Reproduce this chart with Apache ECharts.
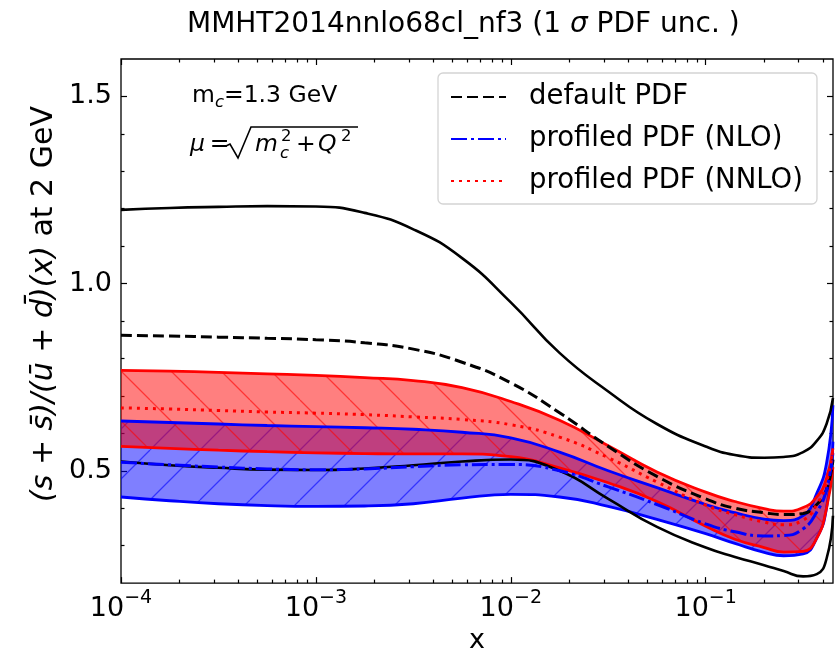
<!DOCTYPE html>
<html>
<head>
<meta charset="utf-8">
<script src="https://cdn.jsdelivr.net/npm/echarts@6/dist/echarts.min.js"></script>
<style>
  html, body { margin: 0; background: #fff; }
  #main { width: 839px; height: 659px; }
</style>
</head>
<body>
<div id="main"></div>
<script>
// sample points as log10(x)
var logx = [-4, -3.75, -3.5, -3.25, -3, -2.75, -2.5, -2.25, -2, -1.75, -1.5, -1.25, -1, -0.85, -0.7, -0.6, -0.5, -0.43, -0.38, -0.347];

// default PDF: band edges + central
var defUp  = [1.197, 1.202, 1.205, 1.207, 1.206, 1.189, 1.145, 1.068, 0.95, 0.815, 0.712, 0.625, 0.565, 0.542, 0.535, 0.537, 0.55, 0.58, 0.625, 0.694];
var defMid = [0.862, 0.86, 0.857, 0.854, 0.85, 0.842, 0.825, 0.79, 0.735, 0.655, 0.565, 0.485, 0.425, 0.40, 0.388, 0.383, 0.386, 0.41, 0.45, 0.53];
var defLo  = [0.525, 0.515, 0.508, 0.503, 0.502, 0.506, 0.515, 0.525, 0.53, 0.50, 0.425, 0.35, 0.295, 0.27, 0.248, 0.232, 0.218, 0.224, 0.265, 0.38];

// profiled NLO
var nloUp  = [0.633, 0.629, 0.625, 0.621, 0.618, 0.615, 0.611, 0.603, 0.588, 0.55, 0.5, 0.455, 0.41, 0.388, 0.371, 0.367, 0.38, 0.44, 0.52, 0.675];
var nloMid = [0.523, 0.516, 0.51, 0.505, 0.503, 0.505, 0.511, 0.516, 0.517, 0.50, 0.457, 0.41, 0.358, 0.337, 0.326, 0.327, 0.345, 0.39, 0.45, 0.55];
var nloLo  = [0.43, 0.42, 0.412, 0.407, 0.405, 0.406, 0.412, 0.427, 0.437, 0.43, 0.405, 0.37, 0.332, 0.306, 0.282, 0.273, 0.278, 0.32, 0.40, 0.578];

// profiled NNLO
var nnloUp  = [0.768, 0.766, 0.763, 0.759, 0.755, 0.749, 0.741, 0.722, 0.685, 0.635, 0.567, 0.497, 0.443, 0.418, 0.399, 0.392, 0.402, 0.43, 0.48, 0.56];
var nnloMid = [0.668, 0.665, 0.661, 0.657, 0.654, 0.65, 0.644, 0.637, 0.623, 0.59, 0.535, 0.47, 0.408, 0.383, 0.363, 0.356, 0.368, 0.41, 0.47, 0.56];
var nnloLo  = [0.565, 0.56, 0.555, 0.551, 0.548, 0.546, 0.545, 0.545, 0.538, 0.508, 0.468, 0.418, 0.352, 0.317, 0.295, 0.283, 0.285, 0.32, 0.40, 0.51];

// ticks
var xMajor = [1e-4, 1e-3, 1e-2, 1e-1];
var xMinor = [];
[1e-4, 1e-3, 1e-2, 1e-1].forEach(function (d) {
  for (var k = 2; k <= 9; k++) if (k * d < 0.45) xMinor.push(k * d);
});
var yMajor = [0.5, 1.0, 1.5];
var yMinor = [0.3, 0.4, 0.6, 0.7, 0.8, 0.9, 1.1, 1.2, 1.3, 1.4];

var F = 'DejaVu Sans';
var xMin = -4, xMax = Math.log10(0.45);

function pts(arr) { return arr.map(function (v, i) { return [logx[i], v]; }); }
// value first so the stack runs on y (x axis is a value axis too)
function ptsYX(arr) { return arr.map(function (v, i) { return [v, logx[i]]; }); }
function gapYX(a, b) { return a.map(function (v, i) { return [v - b[i], logx[i]]; }); }

function hatch(fill, stroke, dir) {
  var s = 50, c = document.createElement('canvas');
  c.width = s; c.height = s;
  var g = c.getContext('2d');
  g.fillStyle = fill; g.fillRect(0, 0, s, s);
  g.strokeStyle = stroke; g.lineWidth = 1.3;
  g.beginPath();
  for (var k = -1; k <= 1; k++) {
    if (dir === '\\') { g.moveTo(k * s, 0); g.lineTo(k * s + s, s); }
    else { g.moveTo(k * s, s); g.lineTo(k * s + s, 0); }
  }
  g.stroke();
  return { image: c, repeat: 'repeat' };
}

function line(name, data, color, width, type, extra) {
  var s = {
    name: name, type: 'line', data: data, symbol: 'none', smooth: 0.5,
    silent: true, animation: false,
    lineStyle: { color: color, width: width, type: type || 'solid' },
    itemStyle: { color: color }
  };
  for (var k in extra) s[k] = extra[k];
  return s;
}

function tickAxis(dir, pos, vals, len, labels) {
  var ax = {
    type: 'value', position: pos,
    min: dir === 'x' ? xMin : 0.2, max: dir === 'x' ? xMax : 1.6,
    axisLine: { show: false }, splitLine: { show: false },
    axisTick: { show: true, inside: true, length: len, customValues: vals,
      lineStyle: { color: '#000', width: 1.2 } },
    axisLabel: { show: false }
  };
  if (labels) ax.axisLabel = labels;
  return ax;
}

var xMajL = xMajor.map(Math.log10), xMinL = xMinor.map(Math.log10);
var bandEncode = { x: 1, y: 0 };

var chart = echarts.init(document.getElementById('main'));
chart.setOption({
  animation: false,
  backgroundColor: '#fff',
  grid: { left: 121, right: 6, top: 59, bottom: 68, show: true, borderColor: '#000', borderWidth: 1.3 },
  xAxis: [
    Object.assign(tickAxis('x', 'bottom', xMajL, 6, {
      show: true, customValues: xMajL, margin: 5,
      formatter: function (v) { return '{b|10}{s|\u2212' + Math.round(-v) + '}'; },
      rich: {
        b: { fontSize: 27, fontFamily: F, color: '#000', lineHeight: 34, verticalAlign: 'bottom' },
        s: { fontSize: 19, fontFamily: F, color: '#000', lineHeight: 21, verticalAlign: 'top' }
      }
    }), { name: 'x', nameLocation: 'middle', nameGap: 34,
      nameTextStyle: { fontSize: 27, fontFamily: F, color: '#000' } }),
    tickAxis('x', 'bottom', xMinL, 3.5),
    tickAxis('x', 'top', xMajL, 6),
    tickAxis('x', 'top', xMinL, 3.5)
  ],
  yAxis: [
    tickAxis('y', 'left', yMajor, 6, {
      show: true, customValues: yMajor, margin: 9,
      formatter: function (v) { return v.toFixed(1); },
      fontSize: 27, fontFamily: F, color: '#000'
    }),
    tickAxis('y', 'left', yMinor, 3.5),
    tickAxis('y', 'right', yMajor, 6),
    tickAxis('y', 'right', yMinor, 3.5)
  ],
  legend: {
    data: ['default PDF', 'profiled PDF (NLO)', 'profiled PDF (NNLO)'],
    orient: 'vertical', left: 438, top: 73,
    padding: [8, 14, 7, 12],
    itemWidth: 55, itemHeight: 14, itemGap: 10,
    backgroundColor: 'rgba(255,255,255,0.8)', borderColor: '#d4d4d4', borderWidth: 1.3, borderRadius: 5,
    selectedMode: false,
    itemStyle: { opacity: 0, color: 'transparent', borderWidth: 0 },
    textStyle: { fontSize: 27.5, fontFamily: F, color: '#000', lineHeight: 32, padding: [0, 0, 0, 18] }
  },
  graphic: [
    { type: 'text', x: 187, y: 25, silent: true, style: {
      text: '{n|MMHT2014nnlo68cl_nf3 (1 }{i|\u03c3}{n| PDF unc. )}',
      align: 'left', verticalAlign: 'middle',
      rich: {
        n: { fontSize: 28, fontFamily: F, fill: '#000' },
        i: { fontSize: 28, fontFamily: F, fontStyle: 'italic', fill: '#000' }
      } } },
    // y axis title
    { type: 'text', x: 44, y: 304, rotation: Math.PI / 2, silent: true, style: {
      text: '{m|(s + s\u0304)/(u\u0304 + d\u0304)(x)}{r| at 2 GeV}',
      align: 'center', verticalAlign: 'middle',
      rich: {
        m: { fontSize: 30, fontFamily: F, fontStyle: 'italic', fill: '#000' },
        r: { fontSize: 30, fontFamily: F, fill: '#000' }
      } } },
    { type: 'text', x: 192, y: 96, silent: true, style: {
      text: '{n|m}{s|c}{n|=1.3 GeV}', align: 'left', verticalAlign: 'middle',
      rich: {
        n: { fontSize: 23.5, fontFamily: F, fill: '#000', lineHeight: 30 },
        s: { fontSize: 16.5, fontFamily: F, fontStyle: 'italic', fill: '#000', lineHeight: 17, verticalAlign: 'bottom' }
      } } },
    { type: 'text', x: 190, y: 145, silent: true, style: {
      text: '{i|\u03bc}{n|\u2009=}', align: 'left', verticalAlign: 'middle',
      rich: {
        n: { fontSize: 23.5, fontFamily: F, fill: '#000' },
        i: { fontSize: 23.5, fontFamily: F, fontStyle: 'italic', fill: '#000' }
      } } },
    { type: 'polyline', silent: true, shape: { points: [[226, 146], [230, 144], [238, 158], [251, 127], [358, 127]] },
      style: { stroke: '#000', lineWidth: 1.6, fill: null } },
    { type: 'text', x: 255, y: 145, silent: true, style: { text: 'm', fontSize: 23.5, fontFamily: F, fontStyle: 'italic', fill: '#000', verticalAlign: 'middle' } },
    { type: 'text', x: 281, y: 137, silent: true, style: { text: '2', fontSize: 16.5, fontFamily: F, fill: '#000', verticalAlign: 'middle' } },
    { type: 'text', x: 280, y: 154, silent: true, style: { text: 'c', fontSize: 16.5, fontFamily: F, fontStyle: 'italic', fill: '#000', verticalAlign: 'middle' } },
    { type: 'text', x: 296, y: 145, silent: true, style: { text: '+', fontSize: 23.5, fontFamily: F, fill: '#000', verticalAlign: 'middle' } },
    { type: 'text', x: 318, y: 145, silent: true, style: { text: 'Q', fontSize: 23.5, fontFamily: F, fontStyle: 'italic', fill: '#000', verticalAlign: 'middle' } },
    { type: 'text', x: 341, y: 137, silent: true, style: { text: '2', fontSize: 16.5, fontFamily: F, fill: '#000', verticalAlign: 'middle' } }
  ],
  series: [
    // NLO band fill
    line('nloBase', ptsYX(nloLo), 'blue', 0, 'solid', { stack: 'nlo', encode: bandEncode, lineStyle: { width: 0, opacity: 0 } }),
    line('nloBand', gapYX(nloUp, nloLo), 'blue', 0, 'solid', { stack: 'nlo', encode: bandEncode, lineStyle: { width: 0, opacity: 0 },
      areaStyle: { color: hatch('rgba(0,0,255,0.5)', 'rgba(0,0,255,0.6)', '/'), opacity: 1 } }),
    // NNLO band fill
    line('nnloBase', ptsYX(nnloLo), 'red', 0, 'solid', { stack: 'nnlo', encode: bandEncode, lineStyle: { width: 0, opacity: 0 } }),
    line('nnloBand', gapYX(nnloUp, nnloLo), 'red', 0, 'solid', { stack: 'nnlo', encode: bandEncode, lineStyle: { width: 0, opacity: 0 },
      areaStyle: { color: hatch('rgba(255,0,0,0.5)', 'rgba(255,0,0,0.6)', '\\'), opacity: 1 } }),
    // band edges
    line('nloUpper', pts(nloUp), '#0000ff', 2.8),
    line('nloLower', pts(nloLo), '#0000ff', 2.8),
    line('nnloUpper', pts(nnloUp), '#ff0000', 2.8),
    line('nnloLower', pts(nnloLo), '#ff0000', 2.8),
    // default PDF
    line('defUpper', pts(defUp), '#000', 2.6),
    line('defLower', pts(defLo), '#000', 2.6),
    line('default PDF', pts(defMid), '#000', 3, [11, 5]),
    // central profiled
    line('profiled PDF (NLO)', pts(nloMid), '#0000ff', 3, [16, 4, 3, 4]),
    line('profiled PDF (NNLO)', pts(nnloMid), '#ff0000', 3, [3, 5])
  ]
});
</script>
</body>
</html>
